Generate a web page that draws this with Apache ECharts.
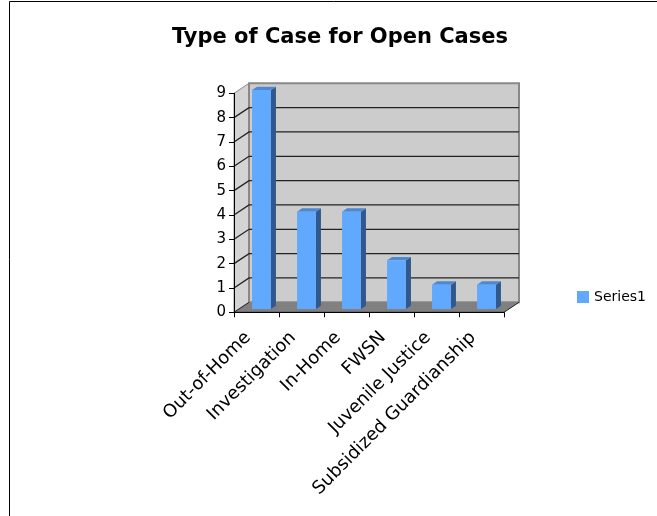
<!DOCTYPE html>
<html>
<head>
<meta charset="utf-8">
<script src="https://cdn.jsdelivr.net/npm/echarts@6/dist/echarts.min.js"></script>
<style>
  html, body { margin: 0; padding: 0; background: #fff; }
  #chart { width: 657px; height: 516px; }
</style>
</head>
<body>
<div id="chart"></div>
<script>
// data
const categories = ['Out-of-Home', 'Investigation', 'In-Home', 'FWSN', 'Juvenile Justice', 'Subsidized Guardianship'];
const series1 = [9, 4, 4, 2, 1, 1];
const yTicks = [0, 1, 2, 3, 4, 5, 6, 7, 8, 9];

// fake 3d depth of the plot box (pixels)
const DEPTH_X = 15;
const DEPTH_Y = -10;

const chart = echarts.init(document.getElementById('chart'));

// walls + floor + back gridlines, built from the axes
function renderWalls(params, api) {
  const cs = params.coordSys;
  const x0 = cs.x, x1 = cs.x + cs.width;
  const yBot = api.coord([0, 0])[1];
  const yTop = api.coord([0, yTicks[yTicks.length - 1]])[1];
  const children = [];

  // left side wall
  children.push({
    type: 'polygon',
    shape: { points: [[x0, yBot], [x0, yTop], [x0 + DEPTH_X, yTop + DEPTH_Y], [x0 + DEPTH_X, yBot + DEPTH_Y]] },
    style: { fill: '#d4d4d4', stroke: '#888', lineWidth: 1 }
  });
  // back wall
  children.push({
    type: 'rect',
    shape: { x: x0 + DEPTH_X, y: yTop + DEPTH_Y, width: x1 - x0, height: yBot - yTop },
    style: { fill: '#cccccc', stroke: '#888', lineWidth: 2 }
  });
  // gridlines on back and side wall
  yTicks.slice(1, -1).forEach(v => {
    const y = api.coord([0, v])[1];
    children.push({
      type: 'polyline',
      shape: { points: [[x0, y], [x0 + DEPTH_X, y + DEPTH_Y], [x1 + DEPTH_X, y + DEPTH_Y]] },
      style: { stroke: '#222', lineWidth: 1.3, fill: null }
    });
  });
  // floor
  children.push({
    type: 'polygon',
    shape: { points: [[x0, yBot], [x1, yBot], [x1 + DEPTH_X, yBot + DEPTH_Y], [x0 + DEPTH_X, yBot + DEPTH_Y]] },
    style: { fill: '#808080', stroke: null }
  });
  children.push({
    type: 'polyline',
    shape: { points: [[x0 + DEPTH_X, yBot + DEPTH_Y], [x0, yBot], [x1, yBot], [x1 + DEPTH_X, yBot + DEPTH_Y]] },
    style: { stroke: '#222', lineWidth: 1, fill: null }
  });
  return { type: 'group', children: children };
}

function renderBar(params, api) {
  const i = api.value(0);
  const v = api.value(1);
  const base = api.coord([i, 0]);
  const top = api.coord([i, v]);
  const band = api.size([1, 0])[0];
  const w = band * 0.42;
  const dx = DEPTH_X / 3, dy = DEPTH_Y / 3;
  const fx = base[0] - w / 2 + dx;
  const fyBot = base[1] + dy;
  const fyTop = top[1] + dy;
  return {
    type: 'group',
    children: [
      {
        type: 'polygon',
        shape: { points: [[fx + w, fyTop], [fx + w + dx, fyTop + dy], [fx + w + dx, fyBot + dy], [fx + w, fyBot]] },
        style: { fill: '#31588a' }
      },
      {
        type: 'polygon',
        shape: { points: [[fx, fyTop], [fx + dx, fyTop + dy], [fx + w + dx, fyTop + dy], [fx + w, fyTop]] },
        style: { fill: '#4d88d2' }
      },
      {
        type: 'rect',
        shape: { x: fx, y: fyTop, width: w, height: fyBot - fyTop },
        style: { fill: '#61a8ff' }
      }
    ]
  };
}

const option = {
  backgroundColor: '#fff',
  animation: false,
  title: {
    text: 'Type of Case for Open Cases',
    left: 335,
    textAlign: 'center',
    top: 22,
    textStyle: { fontFamily: 'DejaVu Sans', fontWeight: 'bold', fontSize: 21, color: '#000' }
  },
  legend: {
    data: ['Series1'],
    left: 572,
    top: 285,
    icon: 'rect',
    itemWidth: 12,
    itemHeight: 12,
    textStyle: { fontFamily: 'DejaVu Sans', fontSize: 14, color: '#000' }
  },
  grid: { left: 234, right: 153, top: 93.3, bottom: 203.7, containLabel: false },
  xAxis: {
    type: 'category',
    data: categories,
    boundaryGap: true,
    axisLine: { lineStyle: { color: '#000', width: 1 } },
    axisTick: { show: true, length: 5, lineStyle: { color: '#000' } },
    axisLabel: {
      rotate: 45,
      interval: 0,
      margin: 14,
      padding: [0, 12, 0, 0],
      fontFamily: 'DejaVu Sans',
      fontSize: 18,
      color: '#000'
    },
    splitLine: { show: false }
  },
  yAxis: {
    type: 'value',
    min: yTicks[0],
    max: yTicks[yTicks.length - 1],
    interval: 1,
    axisLine: { show: true, lineStyle: { color: '#000', width: 1 } },
    axisTick: { show: true, length: 5, lineStyle: { color: '#000' } },
    axisLabel: { margin: 8, fontFamily: 'DejaVu Sans', fontSize: 15, color: '#000' },
    splitLine: { show: false }
  },
  graphic: [{
    type: 'rect',
    shape: { x: 9.5, y: 1.5, width: 700, height: 600 },
    style: { fill: null, stroke: '#000', lineWidth: 1 },
    silent: true,
    z: -10
  }],
  series: [
    {
      name: 'walls',
      type: 'custom',
      silent: true,
      z: -1,
      renderItem: renderWalls,
      data: [[0, 0]]
    },
    {
      name: 'Series1',
      type: 'custom',
      itemStyle: { color: '#61a8ff' },
      renderItem: renderBar,
      encode: { x: 0, y: 1 },
      data: series1.map((v, i) => [i, v])
    }
  ]
};

chart.setOption(option);
</script>
</body>
</html>
